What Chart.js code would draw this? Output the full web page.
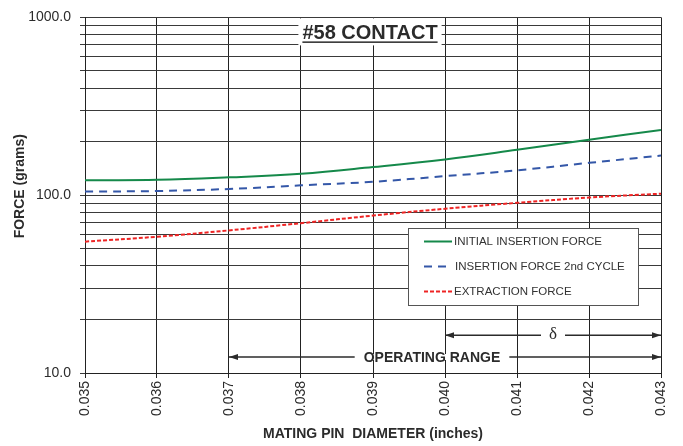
<!DOCTYPE html>
<html>
<head>
<meta charset="utf-8">
<script src="https://cdn.jsdelivr.net/npm/chart.js@4.4.1/dist/chart.umd.min.js"></script>
<style>
  html, body { margin: 0; padding: 0; background: #fff; }
  #forceChart { display: block; }
</style>
</head>
<body>
<canvas id="forceChart" width="683" height="446"></canvas>
<script>
// Mating pin diameter (inches) and measured forces (grams)
const diameters = [0.035, 0.036, 0.037, 0.038, 0.039, 0.040, 0.041, 0.042, 0.043];
const initialInsertion = [121.5, 122, 126, 132, 144, 159, 180, 205, 233];
const secondInsertion = [104.8, 105.6, 108.4, 113.6, 119, 128, 138, 152, 167];
const extraction = [54.8, 58.4, 63.4, 69.6, 76.8, 83.9, 90.6, 97.0, 102];

// Log axis grid values and which of them carry a label
const forceTicks = [10, 20, 30, 40, 50, 60, 70, 80, 90, 100, 200, 300, 400, 500, 600, 700, 800, 900, 1000];
const forceLabels = [10, 100, 1000];

const seriesNames = ["INITIAL INSERTION FORCE", "INSERTION FORCE 2nd CYCLE", "EXTRACTION FORCE"];

const FONT = "Arial, 'Liberation Sans', sans-serif";
const TEXT = "#2b2b2b";

function points(values) {
    return diameters.map((d, i) => ({ x: d, y: values[i] }));
}

function arrow(ctx, x1, x2, y) {
    // horizontal line with filled heads at both ends
    ctx.beginPath();
    ctx.moveTo(x1, y);
    ctx.lineTo(x2, y);
    ctx.stroke();
    [[x1, 1], [x2, -1]].forEach(([x, dir]) => {
        ctx.beginPath();
        ctx.moveTo(x, y);
        ctx.lineTo(x + dir * 9, y - 3);
        ctx.lineTo(x + dir * 9, y + 3);
        ctx.closePath();
        ctx.fill();
    });
}

// Title box, operating range arrows, y axis title and the boxed legend
const overlays = {
    id: "overlays",
    afterDatasetsDraw(chart) {
        const ctx = chart.ctx;
        const xs = chart.scales.x;
        const ys = chart.scales.y;
        const area = chart.chartArea;
        ctx.save();

        // y axis title, sitting a little above the axis middle
        ctx.save();
        ctx.translate(20, (area.top + area.bottom) / 2 - 9);
        ctx.rotate(-Math.PI / 2);
        ctx.font = "bold 14px " + FONT;
        ctx.fillStyle = TEXT;
        ctx.textAlign = "center";
        ctx.textBaseline = "middle";
        ctx.fillText("FORCE (grams)", 0, 0);
        ctx.restore();

        // operating range and delta arrows
        ctx.strokeStyle = TEXT;
        ctx.fillStyle = TEXT;
        ctx.lineWidth = 1.5;
        const yRange = ys.getPixelForValue(12.3);
        const yDelta = ys.getPixelForValue(16.3);
        const x037 = xs.getPixelForValue(0.037);
        const x040 = xs.getPixelForValue(0.040);
        const x043 = xs.getPixelForValue(0.043);

        ctx.font = "bold 14px " + FONT;
        ctx.textAlign = "center";
        ctx.textBaseline = "middle";
        const rangeText = "OPERATING RANGE";
        const rangeX = 432;
        const rw = ctx.measureText(rangeText).width;
        arrow(ctx, x037, x043, yRange);
        ctx.fillStyle = "#fff";
        ctx.fillRect(rangeX - rw / 2 - 9, yRange - 3, rw + 18, 6);
        ctx.fillStyle = TEXT;
        ctx.fillText(rangeText, rangeX, yRange + 1);

        const deltaX = (x040 + x043) / 2;
        arrow(ctx, x040, x043, yDelta);
        ctx.fillStyle = "#fff";
        ctx.fillRect(deltaX - 12, yDelta - 3, 24, 6);
        ctx.fillStyle = TEXT;
        ctx.font = "17px 'Liberation Serif', 'DejaVu Serif', serif";
        ctx.fillText("\u03B4", deltaX, yDelta - 1);

        // chart title with white backing
        ctx.font = "bold 20px " + FONT;
        const title = "#58 CONTACT";
        const tw = ctx.measureText(title).width;
        const tx = (area.left + area.right) / 2 - 3;
        ctx.fillStyle = "#fff";
        ctx.fillRect(tx - tw / 2 - 4, area.top + 1, tw + 8, 27);
        ctx.fillStyle = TEXT;
        ctx.textBaseline = "alphabetic";
        ctx.fillText(title, tx, area.top + 22);
        ctx.fillRect(tx - tw / 2, area.top + 24, tw, 1.5);

        // legend
        const lx = 408, ly = 228, lw = 230, lh = 77;
        ctx.fillStyle = "#fff";
        ctx.fillRect(lx, ly, lw, lh);
        ctx.strokeStyle = "#555";
        ctx.lineWidth = 1;
        ctx.strokeRect(lx + 0.5, ly + 0.5, lw, lh);
        ctx.font = "11.5px " + FONT;
        ctx.textAlign = "left";
        ctx.textBaseline = "middle";
        chart.data.datasets.forEach((ds, i) => {
            const y = ly + 13.5 + i * 25;
            ctx.strokeStyle = ds.borderColor;
            ctx.lineWidth = ds.borderWidth;
            ctx.setLineDash(ds.borderDash || []);
            ctx.beginPath();
            ctx.moveTo(lx + 16, y);
            ctx.lineTo(lx + 44, y);
            ctx.stroke();
            ctx.setLineDash([]);
            ctx.fillStyle = "#333";
            ctx.fillText(ds.label, lx + 46 + (i === 1 ? 1 : 0), y + 0.5);
        });
        ctx.restore();
    }
};

new Chart(document.getElementById("forceChart"), {
    type: "line",
    data: {
        datasets: [
            {
                label: seriesNames[0],
                data: points(initialInsertion),
                borderColor: "#15894a",
                borderWidth: 2,
                pointRadius: 0,
                tension: 0.4,
                fill: false
            },
            {
                label: seriesNames[1],
                data: points(secondInsertion),
                borderColor: "#3457a8",
                borderWidth: 2,
                borderDash: [8, 6],
                pointRadius: 0,
                tension: 0.4,
                fill: false
            },
            {
                label: seriesNames[2],
                data: points(extraction),
                borderColor: "#ee2424",
                borderWidth: 2,
                borderDash: [4, 2],
                pointRadius: 0,
                tension: 0.4,
                fill: false
            }
        ]
    },
    options: {
        responsive: false,
        animation: false,
        devicePixelRatio: 1,
        layout: { padding: { top: 13, right: 22, left: 0, bottom: 0 } },
        plugins: {
            legend: { display: false },
            tooltip: { enabled: false }
        },
        scales: {
            x: {
                type: "linear",
                min: 0.035,
                max: 0.043,
                afterBuildTicks: scale => {
                    scale.ticks = diameters.map(v => ({ value: v }));
                },
                afterFit: scale => { scale.height = 73; },
                ticks: {
                    minRotation: 90,
                    maxRotation: 90,
                    padding: 3,
                    color: TEXT,
                    font: { family: FONT, size: 14 },
                    callback: v => v.toFixed(3)
                },
                grid: { color: "#222", lineWidth: 1, tickLength: 5 },
                border: { color: "#222" },
                title: {
                    display: true,
                    text: "MATING PIN  DIAMETER (inches)",
                    color: TEXT,
                    font: { family: FONT, size: 14, weight: "bold" },
                    padding: { top: 0, bottom: 3 }
                }
            },
            y: {
                type: "logarithmic",
                min: 10,
                max: 1000,
                afterBuildTicks: scale => {
                    scale.ticks = forceTicks.map(v => ({ value: v }));
                },
                afterFit: scale => { scale.width = 85; },
                ticks: {
                    padding: 9,
                    color: TEXT,
                    font: { family: FONT, size: 14 },
                    autoSkip: false,
                    callback: v => forceLabels.includes(v) ? v.toFixed(1) : ""
                },
                grid: { color: "#3a3a3a", lineWidth: 1, tickLength: 5 },
                border: { color: "#222" }
            }
        }
    },
    plugins: [overlays]
});
</script>
</body>
</html>
